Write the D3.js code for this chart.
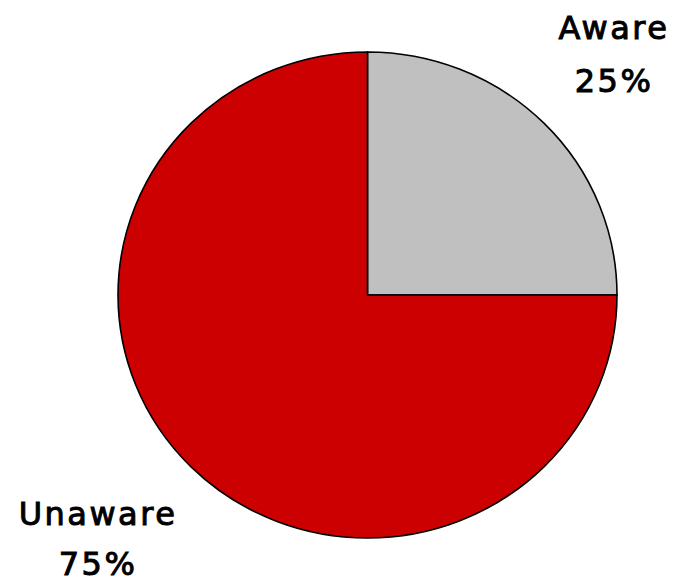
<!DOCTYPE html>
<html><head><meta charset="utf-8">
<script src="https://cdn.jsdelivr.net/npm/d3@7"></script>
<style>body{margin:0;background:#fff}</style>
</head><body>
<svg id="c" width="678" height="582"></svg>
<script>
const categories = ["Aware", "Unaware"];
const values = [25, 75];
const colors = ["#c0c0c0", "#cc0000"];
const labels = ["25%", "75%"];

const svg = d3.select("#c");
const cx = 367.5, cy = 295, rx = 249.5, ry = 243;
const pie = d3.pie().sort(null).value(d => d)(values);
const arc = d3.arc().innerRadius(0).outerRadius(rx);
const g = svg.append("g").attr("transform", `translate(${cx},${cy}) scale(1,${ry / rx})`);
g.selectAll("path").data(pie).join("path")
  .attr("d", arc)
  .attr("fill", (d, i) => colors[i])
  .attr("stroke", "#000").attr("stroke-width", 1.6)
  .attr("vector-effect", "non-scaling-stroke");

const pos = [[614, 39, 92], [98, 525, 575]];
categories.forEach((c, i) => {
  const t = svg.append("text").attr("text-anchor", "middle")
    .attr("font-family", "DejaVu Sans").attr("font-weight", "normal")
    .attr("font-size", 32).attr("letter-spacing", 2.5).attr("fill", "#000")
    .attr("stroke", "#000").attr("stroke-width", 1);
  t.append("tspan").attr("x", pos[i][0]).attr("y", pos[i][1]).text(c);
  t.append("tspan").attr("x", pos[i][0]).attr("y", pos[i][2]).text(labels[i]);
});
</script>
</body></html>
